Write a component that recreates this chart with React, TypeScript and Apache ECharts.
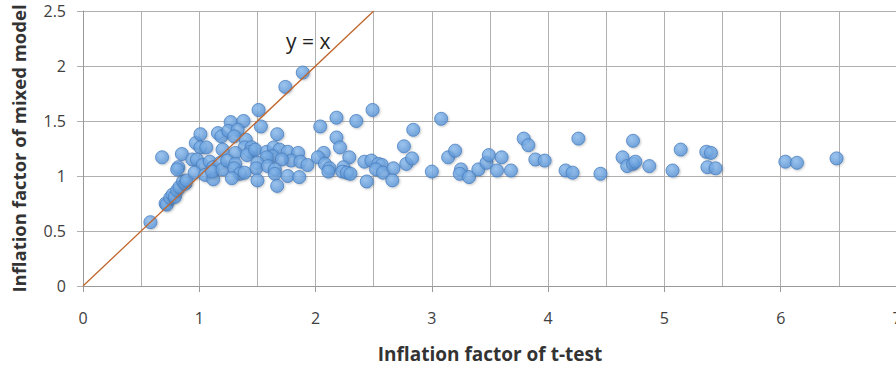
import React, { useEffect, useRef } from "react";
import * as echarts from "echarts";

const tTestFactor: number[] = [
  0.58, 0.71, 0.72, 0.75, 0.77, 0.79, 0.81, 0.83, 0.86, 0.88, 0.89,
  0.68, 0.85, 0.82, 0.81, 0.97, 1.01, 1.01, 1.06, 1.16, 1.19,
  0.94, 0.98, 1.03, 1.09, 1.12, 1.18, 0.96, 1.05, 1.12, 1.11, 1.2,
  1.51, 1.27, 1.38, 1.53, 1.25, 1.33, 1.3, 1.4, 1.67, 1.39, 1.45, 1.44,
  1.2, 1.31, 1.41, 1.48, 1.58, 1.64, 1.69, 1.63, 1.76, 1.85, 1.79, 1.71,
  1.58, 1.5, 1.87, 1.93, 1.24, 1.31, 1.3, 1.35, 1.49, 1.59, 1.65, 1.65,
  1.76, 1.86, 1.39, 1.28, 1.5, 1.67, 1.74, 1.89,
  2.49, 2.18, 2.35, 2.04, 2.18, 2.21, 2.07, 2.02, 2.29, 2.08, 2.12, 2.11,
  2.24, 2.23, 2.27, 2.3, 2.42, 2.48, 2.54, 2.57, 2.52, 2.58, 2.67, 2.66, 2.44,
  3.08, 2.84, 2.76, 2.78, 2.83, 3.0, 3.14, 3.2, 3.25, 3.24, 3.32, 3.4, 3.47,
  3.79, 3.83, 3.49, 3.6, 3.56, 3.68, 3.89, 3.97, 4.26, 4.15, 4.21, 4.45,
  4.73, 4.64, 4.68, 4.73, 4.75, 4.87, 5.07, 5.14, 5.36, 5.4, 5.37, 5.44,
  6.04, 6.14, 6.48,
];

const mixedModelFactor: number[] = [
  0.58, 0.75, 0.74, 0.8, 0.83, 0.81, 0.87, 0.9, 0.95, 0.93, 0.96,
  1.17, 1.2, 1.08, 1.06, 1.3, 1.38, 1.26, 1.26, 1.39, 1.36,
  1.15, 1.15, 1.1, 1.13, 1.08, 1.12, 1.03, 1.01, 0.97, 1.04, 1.06,
  1.6, 1.49, 1.5, 1.45, 1.41, 1.42, 1.36, 1.33, 1.38, 1.26, 1.26, 1.22,
  1.24, 1.21, 1.19, 1.24, 1.22, 1.26, 1.24, 1.18, 1.22, 1.21, 1.14, 1.15,
  1.17, 1.12, 1.13, 1.1, 1.14, 1.11, 1.07, 1.02, 1.07, 1.09, 1.06, 1.02,
  1.0, 0.99, 1.03, 0.98, 0.96, 0.91, 1.81, 1.94,
  1.6, 1.53, 1.5, 1.45, 1.35, 1.26, 1.21, 1.17, 1.17, 1.11, 1.07, 1.04,
  1.08, 1.04, 1.03, 1.02, 1.13, 1.14, 1.11, 1.1, 1.06, 1.03, 1.07, 0.96, 0.95,
  1.52, 1.42, 1.27, 1.11, 1.16, 1.04, 1.17, 1.23, 1.06, 1.02, 0.99, 1.06, 1.12,
  1.34, 1.28, 1.19, 1.17, 1.05, 1.05, 1.15, 1.14, 1.34, 1.05, 1.03, 1.02,
  1.32, 1.17, 1.09, 1.11, 1.13, 1.09, 1.05, 1.24, 1.22, 1.21, 1.08, 1.07,
  1.13, 1.12, 1.16,
];

const identityEnds: number[] = [0, 2.5];

const xAxisTitle = "Inflation factor of t-test";
const yAxisTitle = "Inflation factor of mixed model";
const lineLabel = "y = x";

export default function App() {
  const ref = useRef<HTMLDivElement>(null);

  useEffect(() => {
    if (!ref.current) return;
    const chart = echarts.init(ref.current, undefined, { renderer: "svg" });
    const points = tTestFactor.map((x, i) => [x, mixedModelFactor[i]]);
    const gridColor = "#b0b0b0";
    const labelFont = "'Open Sans', 'Liberation Sans', sans-serif";
    chart.setOption({
      animation: false,
      backgroundColor: "#ffffff",
      grid: {
        left: 83,
        right: 23,
        top: 11,
        bottom: 79,
        containLabel: false,
        outerBoundsMode: "none",
      },
      xAxis: {
        type: "value",
        min: 0,
        max: 7,
        interval: 1,
        name: xAxisTitle,
        nameLocation: "middle",
        nameGap: 58,
        nameTextStyle: {
          fontFamily: labelFont,
          fontWeight: "bold",
          fontSize: 19,
          color: "#333",
        },
        axisLine: { show: true, lineStyle: { color: "#999", width: 1 } },
        axisTick: { show: true, length: 6, lineStyle: { color: "#999" } },
        axisLabel: {
          margin: 24,
          fontSize: 16,
          color: "#404040",
          fontFamily: labelFont,
        },
        splitLine: { show: true, lineStyle: { color: gridColor, width: 1 } },
        minorTick: { show: false, splitNumber: 2 },
        minorSplitLine: { show: true, lineStyle: { color: gridColor, width: 1 } },
      },
      yAxis: {
        type: "value",
        min: 0,
        max: 2.5,
        interval: 0.5,
        name: yAxisTitle,
        nameLocation: "middle",
        nameGap: 55,
        nameRotate: 90,
        nameTextStyle: {
          fontFamily: labelFont,
          fontWeight: "bold",
          fontSize: 18.5,
          color: "#333",
        },
        axisLine: { show: true, lineStyle: { color: "#999", width: 1 } },
        axisTick: { show: true, length: 6, lineStyle: { color: gridColor } },
        axisLabel: {
          margin: 17,
          fontSize: 16,
          color: "#404040",
          fontFamily: labelFont,
        },
        splitLine: { show: true, lineStyle: { color: gridColor, width: 1 } },
      },
      graphic: [
        {
          type: "text",
          left: 286,
          top: 30,
          style: {
            text: lineLabel,
            fontSize: 21,
            fontFamily: labelFont,
            fill: "#222",
          },
        },
      ],
      series: [
        {
          type: "scatter",
          data: points,
          symbol: "circle",
          symbolSize: 13,
          z: 2,
          itemStyle: {
            color: {
              type: "radial",
              x: 0.4,
              y: 0.35,
              r: 0.7,
              colorStops: [
                { offset: 0, color: "#8cbdf0" },
                { offset: 1, color: "#5490d4" },
              ],
            },
            borderColor: "#4a80c0",
            borderWidth: 1,
            shadowColor: "rgba(0,0,0,0.25)",
            shadowBlur: 2,
            shadowOffsetX: 1,
            shadowOffsetY: 1,
          },
        },
        {
          type: "line",
          data: identityEnds.map((v) => [v, v]),
          symbol: "none",
          z: 5,
          lineStyle: { color: "#c0662c", width: 1.3 },
        },
      ],
    });
    return () => chart.dispose();
  }, []);

  return (
    <div
      style={{
        position: "absolute",
        left: 0,
        top: 0,
        width: 896,
        height: 365,
        overflow: "hidden",
        background: "#fff",
      }}
    >
      <div ref={ref} style={{ width: 920, height: 365 }} />
    </div>
  );
}
